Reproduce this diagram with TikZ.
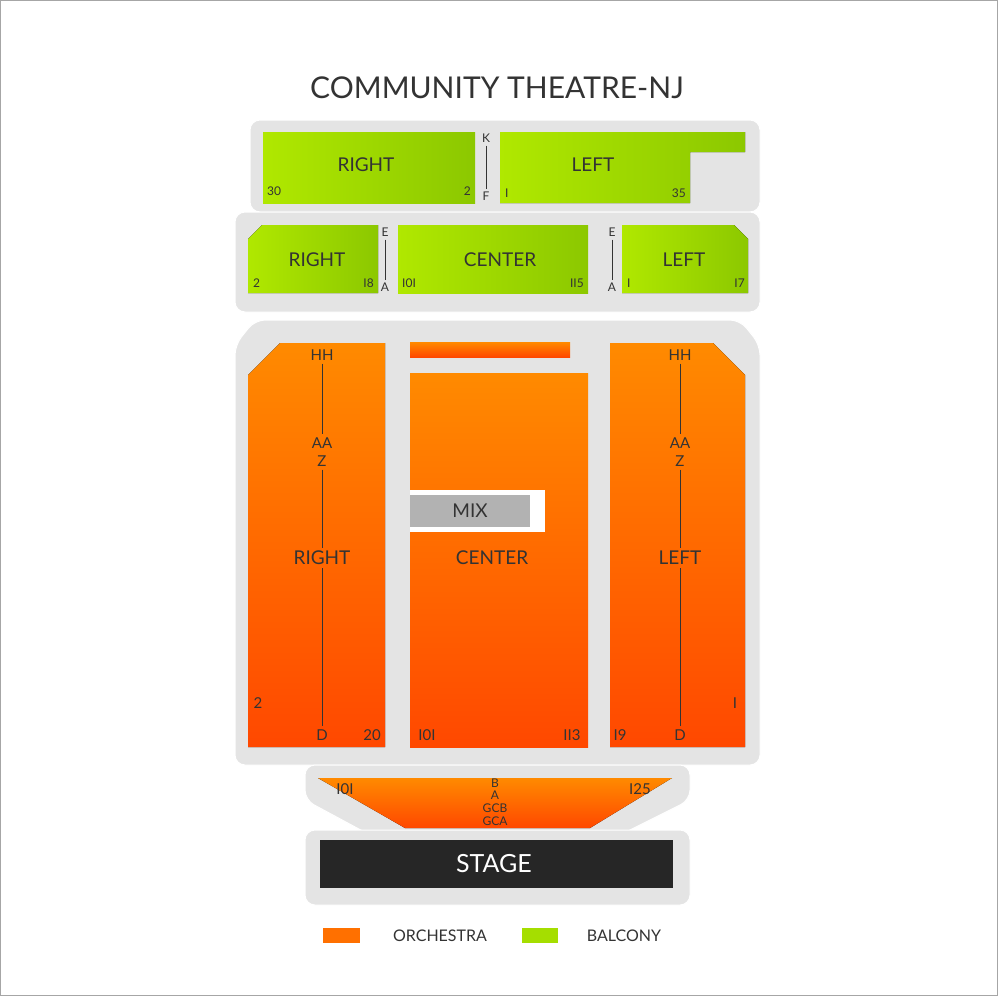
\documentclass[tikz,border=0pt]{standalone}
\usepackage{fontspec}
\setmainfont{Lato}
\usetikzlibrary{calc}
\definecolor{orA}{HTML}{FF8A00}
\definecolor{orB}{HTML}{FF4800}
\definecolor{grA}{HTML}{B0E800}
\definecolor{grB}{HTML}{8CC800}
\definecolor{bgGray}{HTML}{E4E4E4}
\definecolor{txt}{HTML}{333333}
\tikzset{
  backdrop/.style={fill=bgGray, draw=white, line width=1pt, rounded corners=10pt},
  orchestra/.style={top color=orA, bottom color=orB, draw=none},
  balcony/.style={left color=grA, right color=grB, draw=none},
  seatlbl/.style={text=txt, font=\fontsize{12}{12}\selectfont, inner sep=0pt},
  rowlbl/.style={text=txt, font=\fontsize{15}{15}\selectfont, inner sep=0pt},
  sectlbl/.style={text=txt, font=\fontsize{19}{19}\selectfont, inner sep=0pt},
  aisle/.style={draw=txt, line width=0.8pt}
}
\begin{document}
\begin{tikzpicture}[x=1pt, y=-1pt]
    \useasboundingbox (0,0) rectangle (998,996);
    \fill[white] (0,0) rectangle (998,996);
    \draw[gray!70, line width=1pt] (0.5,0.5) rectangle (997.5,995.5);
    \node[text=txt, font=\fontsize{30}{30}\selectfont] (title) at (497,88) {COMMUNITY THEATRE-NJ};
    % gray backdrops
    \path[backdrop] (250,120) rectangle (760,212);
    \path[backdrop] (235,212) rectangle (760,312);
    \path[backdrop] (255,320) -- (740,320) -- (760,345) -- (760,765) -- (235,765) -- (235,345) -- cycle;
    \path[backdrop] (305,765) -- (690,765) -- (690,800) -- (620,835) -- (370,835) -- (305,800) -- cycle;
    \path[backdrop] (305,830) rectangle (690,905);
    % balcony upper
    \fill[balcony] (263,132) rectangle (475,203);
    \fill[balcony] (500,132) -- (745,132) -- (745,152) -- (690,152) -- (690,203) -- (500,203) -- cycle;
    \node[sectlbl] (balRU) at (366,165) {RIGHT};
    \node[sectlbl] (balLU) at (593,165) {LEFT};
    \node[seatlbl, anchor=west] at (267,191) {30};
    \node[seatlbl, anchor=east] at (471,191) {2};
    \node[seatlbl, anchor=west] at (505,193) {I};
    \node[seatlbl, anchor=east] at (686,193) {35};
    \node[seatlbl] (rowK) at (486,138) {K};
    \node[seatlbl] (rowF) at (486,196) {F};
    \draw[aisle] (rowK.south) ++(0,3) -- ($(rowF.north)+(0,-3)$);
    % balcony lower
    \fill[balcony] (262,225) -- (378,225) -- (378,293) -- (248,293) -- (248,239) -- cycle;
    \fill[balcony] (398,225) rectangle (588,293);
    \fill[balcony] (622,225) -- (734,225) -- (748,239) -- (748,293) -- (622,293) -- cycle;
    \node[sectlbl] (balRL) at (317,260) {RIGHT};
    \node[sectlbl] (balCL) at (500,260) {CENTER};
    \node[sectlbl] (balLL) at (684,260) {LEFT};
    \node[seatlbl, anchor=west] at (253,283) {2};
    \node[seatlbl, anchor=east] at (374,283) {I8};
    \node[seatlbl, anchor=west] at (402,283) {I0I};
    \node[seatlbl, anchor=east] at (584,283) {II5};
    \node[seatlbl, anchor=west] at (627,283) {I};
    \node[seatlbl, anchor=east] at (745,283) {I7};
    \foreach \ax/\nm in {385/a, 612/b} {
        \node[seatlbl] (rowE\nm) at (\ax,232) {E};
        \node[seatlbl] (rowA\nm) at (\ax,287) {A};
        \draw[aisle] ($(rowE\nm.south)+(0,3)$) -- ($(rowA\nm.north)+(0,-3)$);
    }
    % orchestra
    \fill[orchestra] (280,343) -- (385,343) -- (385,747) -- (248,747) -- (248,375) -- cycle;
    \fill[orchestra] (410,342) rectangle (570,357);
    \fill[orchestra] (410,373) rectangle (588,747);
    \fill[orchestra] (610,343) -- (713,343) -- (745,375) -- (745,747) -- (610,747) -- cycle;
    \fill[white] (410,490) rectangle (545,532);
    \fill[gray!60] (410,495) rectangle (530,527);
    \node[sectlbl] (mix) at (470,511) {MIX};
    \node[sectlbl] (orchC) at (492,558) {CENTER};
    \node[rowlbl] at (427,735) {I0I};
    \node[rowlbl] at (572,735) {II3};
    \foreach \cx/\nm/\sec/\inx/\outx/\inlbl/\outlbl in
        {322/r/RIGHT/372/258/20/2, 680/l/LEFT/620/735/I9/I} {
        \node[rowlbl] (hh\nm) at (\cx,355) {HH};
        \node[rowlbl] (aa\nm) at (\cx,443) {AA};
        \node[rowlbl] (z\nm) at (\cx,461) {Z};
        \node[sectlbl] (orch\nm) at (\cx,558) {\sec};
        \node[rowlbl] (d\nm) at (\cx,735) {D};
        \node[rowlbl] at (\inx,735) {\inlbl};
        \node[rowlbl] at (\outx,703) {\outlbl};
        \draw[aisle] ($(hh\nm.south)+(0,3)$) -- ($(aa\nm.north)+(0,-3)$);
        \draw[aisle] ($(z\nm.south)+(0,3)$) -- ($(orch\nm.north)+(0,-3)$);
        \draw[aisle] ($(orch\nm.south)+(0,3)$) -- ($(d\nm.north)+(0,-3)$);
    }
    % front
    \fill[orchestra] (318,778) -- (672,778) -- (590,828) -- (405,828) -- cycle;
    \node[rowlbl] at (345,789) {I0I};
    \node[rowlbl] at (640,789) {I25};
    \node[seatlbl] (rowB) at (495,783) {B};
    \node[seatlbl] (rowAf) at (495,795) {A};
    \node[seatlbl] (rowGCB) at (495,808) {GCB};
    \node[seatlbl] (rowGCA) at (495,821) {GCA};
    % stage
    \fill[black!85] (320,840) rectangle (673,888);
    \node[text=white, font=\fontsize{25}{25}\selectfont] (stage) at (494,864) {STAGE};
    % legend
    \fill[orA!60!orB] (323,928) rectangle (360,943);
    \node[text=txt, font=\fontsize{16}{16}\selectfont] (legO) at (440,936) {ORCHESTRA};
    \fill[grA!70!grB] (522,928) rectangle (558,943);
    \node[text=txt, font=\fontsize{16}{16}\selectfont] (legB) at (624,936) {BALCONY};
\end{tikzpicture}
\end{document}
